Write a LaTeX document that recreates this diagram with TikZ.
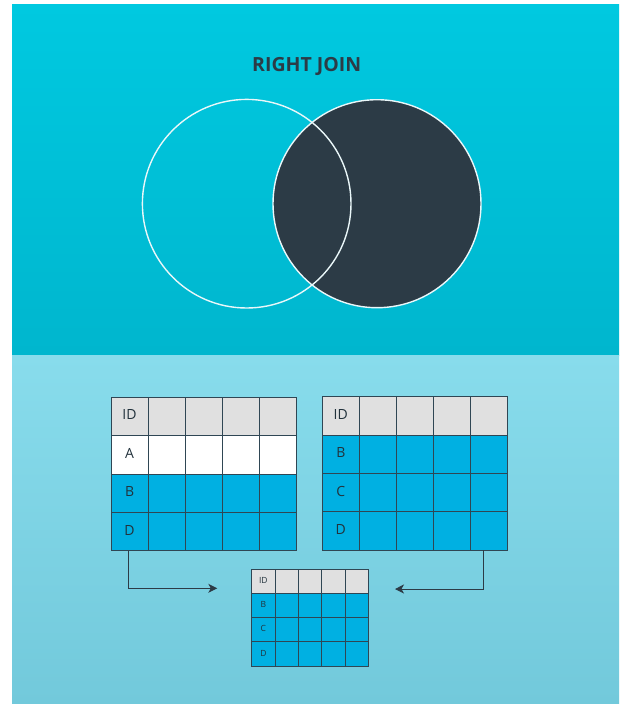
\documentclass[tikz,border=0pt]{standalone}
\usepackage{fontspec}
\setmainfont{Open Sans}
\usetikzlibrary{arrows.meta,calc}
\definecolor{topA}{HTML}{00C9E0}
\definecolor{topB}{HTML}{00B6CE}
\definecolor{botA}{HTML}{88DCEC}
\definecolor{botB}{HTML}{72C9DB}
\definecolor{darkc}{HTML}{2C3B46}
\definecolor{cellblue}{HTML}{00B0E2}
\definecolor{cellgray}{HTML}{E0E0E0}
\definecolor{gridc}{HTML}{2F4654}
\definecolor{textc}{HTML}{22323C}
\definecolor{ringc}{HTML}{EAF7F9}
\tikzset{
  cellL/.style={draw=gridc, line width=0.9pt, inner sep=0pt, minimum width=37.1pt, minimum height=38.35pt},
  cellR/.style={cellL, minimum width=37pt, minimum height=38.4pt},
  cellS/.style={cellL, minimum width=23.4pt, minimum height=24.25pt},
  bigtxt/.style={text=textc, font=\fontsize{14}{15}\selectfont, yshift=1.5pt},
  smalltxt/.style={text=textc, font=\fontsize{8.5}{9}\selectfont, yshift=0.8pt},
  conn/.style={draw=darkc, line width=1.0pt, -{Stealth[length=9pt,width=9pt,inset=2.5pt]}},
  ring/.style={circle, draw=ringc, line width=1.4pt, inner sep=0pt}
}
\begin{document}
\begin{tikzpicture}[x=1pt,y=-1pt]
\useasboundingbox (0,0) rectangle (620,704);
% panels
\shade[top color=topA, bottom color=topB] (12,4) rectangle (619,355);
\shade[top color=botA, bottom color=botB] (12,355) rectangle (619,704);
% title
\node[anchor=base, font=\bfseries\fontsize{19.5}{20}\selectfont, text=darkc, inner sep=0pt] (title) at (306.7,71.7) {RIGHT JOIN};
% venn
\node[ring, fill=darkc, minimum size=208pt] (rightset) at (377,203.7) {};
\node[ring, minimum size=208.6pt] (leftset) at (246.7,203.7) {};
% left table
\foreach \c in {1,...,5} {
  \node[cellL, fill=cellgray] (L-1-\c) at ({111+37.1*(\c-0.5)},{397.3+38.35*0.5}) {};
  \node[cellL, fill=white] (L-2-\c) at ({111+37.1*(\c-0.5)},{397.3+38.35*1.5}) {};
  \node[cellL, fill=cellblue] (L-3-\c) at ({111+37.1*(\c-0.5)},{397.3+38.35*2.5}) {};
  \node[cellL, fill=cellblue] (L-4-\c) at ({111+37.1*(\c-0.5)},{397.3+38.35*3.5}) {};
}
\node[bigtxt] (Lt1) at (L-1-1) {ID};
\node[bigtxt] (Lt2) at (L-2-1) {A};
\node[bigtxt] (Lt3) at (L-3-1) {B};
\node[bigtxt] (Lt4) at (L-4-1) {D};
% right table
\foreach \c in {1,...,5} {
  \node[cellR, fill=cellgray] (R-1-\c) at ({322.3+37*(\c-0.5)},{396.7+38.4*0.5}) {};
  \node[cellR, fill=cellblue] (R-2-\c) at ({322.3+37*(\c-0.5)},{396.7+38.4*1.5}) {};
  \node[cellR, fill=cellblue] (R-3-\c) at ({322.3+37*(\c-0.5)},{396.7+38.4*2.5}) {};
  \node[cellR, fill=cellblue] (R-4-\c) at ({322.3+37*(\c-0.5)},{396.7+38.4*3.5}) {};
}
\node[bigtxt] (Rt1) at (R-1-1) {ID};
\node[bigtxt] (Rt2) at (R-2-1) {B};
\node[bigtxt] (Rt3) at (R-3-1) {C};
\node[bigtxt] (Rt4) at (R-4-1) {D};
% result table
\foreach \c in {1,...,5} {
  \node[cellS, fill=cellgray] (S-1-\c) at ({251.7+23.4*(\c-0.5)},{569+24.25*0.5}) {};
  \node[cellS, fill=cellblue] (S-2-\c) at ({251.7+23.4*(\c-0.5)},{569+24.25*1.5}) {};
  \node[cellS, fill=cellblue] (S-3-\c) at ({251.7+23.4*(\c-0.5)},{569+24.25*2.5}) {};
  \node[cellS, fill=cellblue] (S-4-\c) at ({251.7+23.4*(\c-0.5)},{569+24.25*3.5}) {};
}
\node[smalltxt] (St1) at (S-1-1) {ID};
\node[smalltxt] (St2) at (S-2-1) {B};
\node[smalltxt] (St3) at (S-3-1) {C};
\node[smalltxt] (St4) at (S-4-1) {D};
% connectors
\coordinate (la) at (217.3,588.3);
\coordinate (ra) at (395,589);
\coordinate (ls) at (128.3,550.7);
\coordinate (rs) at (483.7,550.3);
\draw[conn] (ls) |- (la);
\draw[conn] (rs) |- (ra);
\end{tikzpicture}
\end{document}
